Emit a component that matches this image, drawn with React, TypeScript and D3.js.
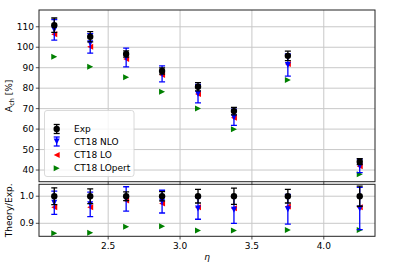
import React from "react";
import * as d3 from "d3";

const eta = [2.125, 2.375, 2.625, 2.875, 3.125, 3.375, 3.75, 4.25];
const expVal = [110.8, 105.1, 96.7, 88.4, 80.7, 68.8, 95.8, 44.1];
const expErr = [3.5, 2.5, 1.5, 1.5, 2.0, 1.8, 2.3, 1.5];
const nloVal = [108.5, 101.9, 95.0, 87.0, 77.3, 65.8, 91.3, 42.0];
const nloErr = [5.0, 4.8, 4.6, 3.9, 4.5, 4.0, 5.4, 3.3];
const loVal = [106.3, 100.2, 94.2, 86.4, 77.1, 65.5, 91.8, 41.8];
const lopertVal = [95.3, 90.5, 85.3, 78.2, 70.1, 59.9, 84.0, 38.0];

const expRatioErr = [0.031, 0.027, 0.016, 0.017, 0.025, 0.03, 0.025, 0.037];
const nloRatio = [0.976, 0.97, 0.99, 0.98, 0.955, 0.95, 0.952, 0.955];
const nloRatioErr = [0.043, 0.045, 0.045, 0.042, 0.04, 0.05, 0.055, 0.078];
const loRatio = [0.959, 0.959, 0.984, 0.973, 0.959, 0.956, 0.962, 0.959];
const lopertRatio = [0.863, 0.865, 0.887, 0.889, 0.873, 0.873, 0.875, 0.875];

const xTicks = [2.5, 3.0, 3.5, 4.0];
const topTicks = [40, 50, 60, 70, 80, 90, 100, 110];
const botTicks = [0.9, 1.0];
const legendLabels = ["Exp", "CT18 NLO", "CT18 LO", "CT18 LOpert"];

const W = 395, H = 263;
const L = 39, R = 375;
const T1 = 10, B1 = 181.7, T2 = 184.3, B2 = 236.3;
const FONT = "DejaVu Sans, sans-serif";
const BLUE = "#0000ff", RED = "#ff0000", GREEN = "#008000";

const x = d3.scaleLinear().domain([2.01875, 4.35625]).range([L, R]);
const yTop = d3.scaleLinear().domain([34.3, 118.2]).range([B1, T1]);
const yBot = d3.scaleLinear().domain([0.852, 1.044]).range([B2, T2]);

const S = 3;
function tri(cx: number, cy: number, dir: "down" | "left" | "right") {
  if (dir === "down") return `M${cx},${cy + S}L${cx - S},${cy - S}L${cx + S},${cy - S}Z`;
  if (dir === "left") return `M${cx - S},${cy}L${cx + S},${cy - S}L${cx + S},${cy + S}Z`;
  return `M${cx + S},${cy}L${cx - S},${cy - S}L${cx - S},${cy + S}Z`;
}

function ErrBar({ cx, y1, y2, color }: { cx: number; y1: number; y2: number; color: string }) {
  const c = 3;
  return (
    <g stroke={color} strokeWidth={1.3}>
      <line x1={cx} x2={cx} y1={y1} y2={y2} />
      <line x1={cx - c} x2={cx + c} y1={y1} y2={y1} />
      <line x1={cx - c} x2={cx + c} y1={y2} y2={y2} />
    </g>
  );
}

function Panel({ y, top, bottom, ticks, fmt, ex, exErr, nl, nlErr, lo, lp, showX, clipId }: any) {
  return (
    <g>
      <defs>
        <clipPath id={clipId}>
          <rect x={L} y={top} width={R - L} height={bottom - top} />
        </clipPath>
      </defs>
      <g stroke="#c8c8c8" strokeWidth={1}>
        {xTicks.map((t) => (
          <line key={"gx" + t} x1={x(t)} x2={x(t)} y1={top} y2={bottom} />
        ))}
        {ticks.map((t: number) => (
          <line key={"gy" + t} x1={L} x2={R} y1={y(t)} y2={y(t)} />
        ))}
      </g>
      <g clipPath={`url(#${clipId})`}>
        {eta.map((e, i) => (
          <path key={"lo" + i} d={tri(x(e), y(lo[i]), "left")} fill={RED} />
        ))}
        {eta.map((e, i) => (
          <path key={"lp" + i} d={tri(x(e), y(lp[i]), "right")} fill={GREEN} />
        ))}
        {eta.map((e, i) => (
          <g key={"nl" + i}>
            <ErrBar cx={x(e)} y1={y(nl[i] + nlErr[i])} y2={y(nl[i] - nlErr[i])} color={BLUE} />
            <path d={tri(x(e), y(nl[i]), "down")} fill={BLUE} />
          </g>
        ))}
        {eta.map((e, i) => (
          <g key={"ex" + i}>
            <ErrBar cx={x(e)} y1={y(ex[i] + exErr[i])} y2={y(ex[i] - exErr[i])} color="#000" />
            <circle cx={x(e)} cy={y(ex[i])} r={3.2} fill="#000" />
          </g>
        ))}
      </g>
      <rect x={L} y={top} width={R - L} height={bottom - top} fill="none" stroke="#222" strokeWidth={1} />
      <g stroke="#222" strokeWidth={0.8}>
        {ticks.map((t: number) => (
          <line key={"ty" + t} x1={L - 3.2} x2={L} y1={y(t)} y2={y(t)} />
        ))}
        {xTicks.map((t) => (
          <line key={"tx" + t} x1={x(t)} x2={x(t)} y1={bottom} y2={bottom + 3.2} />
        ))}
      </g>
      <g fontFamily={FONT} fontSize={9} fill="#000">
        {ticks.map((t: number) => (
          <text key={"ly" + t} x={L - 5} y={y(t)} dy="0.35em" textAnchor="end">
            {fmt(t)}
          </text>
        ))}
        {showX &&
          xTicks.map((t) => (
            <text key={"lx" + t} x={x(t)} y={249} textAnchor="middle">
              {t.toFixed(1)}
            </text>
          ))}
      </g>
    </g>
  );
}

export default function App() {
  const ones = eta.map(() => 1);
  const lx = 56.7;
  const lys = [129, 141.5, 155, 168.3];
  return (
    <svg width={W} height={H} style={{ position: "absolute", left: 0, top: 0, background: "#fff" }}>
      <rect width={W} height={H} fill="#fff" />
      <Panel
        y={yTop}
        top={T1}
        bottom={B1}
        ticks={topTicks}
        fmt={(t: number) => String(t)}
        ex={expVal}
        exErr={expErr}
        nl={nloVal}
        nlErr={nloErr}
        lo={loVal}
        lp={lopertVal}
        showX={false}
        clipId="c1"
      />
      <Panel
        y={yBot}
        top={T2}
        bottom={B2}
        ticks={botTicks}
        fmt={(t: number) => t.toFixed(1)}
        ex={ones}
        exErr={expRatioErr}
        nl={nloRatio}
        nlErr={nloRatioErr}
        lo={loRatio}
        lp={lopertRatio}
        showX={true}
        clipId="c2"
      />
      <rect x={44.5} y={110.5} width={89.5} height={66} rx={2.5} fill="#fff" fillOpacity={0.8} stroke="#d0d0d0" strokeWidth={0.8} />
      <g>
        <ErrBar cx={lx} y1={lys[0] - 4.5} y2={lys[0] + 4.5} color="#000" />
        <circle cx={lx} cy={lys[0]} r={3.2} fill="#000" />
        <ErrBar cx={lx} y1={lys[1] - 4.5} y2={lys[1] + 4.5} color={BLUE} />
        <path d={tri(lx, lys[1], "down")} fill={BLUE} />
        <path d={tri(lx, lys[2], "left")} fill={RED} />
        <path d={tri(lx, lys[3], "right")} fill={GREEN} />
      </g>
      <g fontFamily={FONT} fontSize={9} fill="#000">
        {legendLabels.map((s, i) => (
          <text key={s} x={74} y={lys[i]} dy="0.35em">
            {s}
          </text>
        ))}
        <text transform={`translate(12,${(T1 + B1) / 2}) rotate(-90)`} textAnchor="middle">
          A<tspan fontSize={6.5} dy={2}>ch</tspan>
          <tspan dy={-2}> [%]</tspan>
        </text>
        <text transform={`translate(12,${(T2 + B2) / 2}) rotate(-90)`} textAnchor="middle">
          Theory/Exp.
        </text>
        <text x={(L + R) / 2} y={260} textAnchor="middle" fontStyle="italic">
          η
        </text>
      </g>
    </svg>
  );
}
